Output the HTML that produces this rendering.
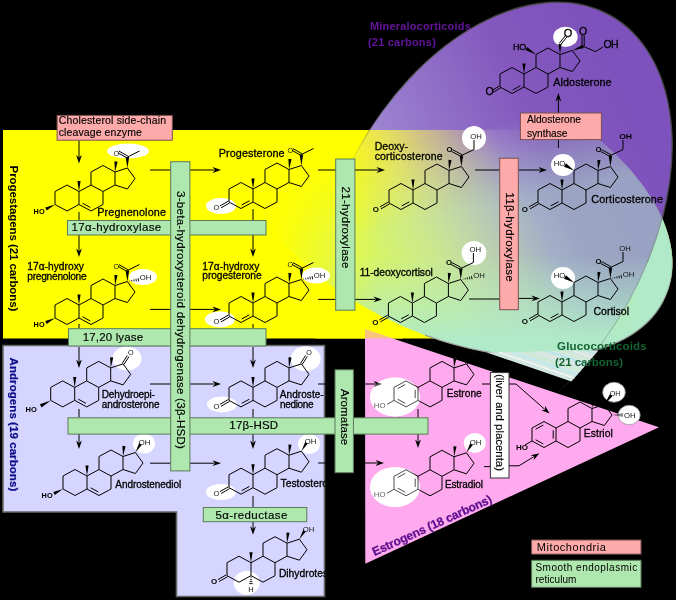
<!DOCTYPE html>
<html><head><meta charset="utf-8"><style>html,body{margin:0;padding:0;background:#000;width:676px;height:600px;overflow:hidden}</style></head>
<body>
<svg width="676" height="600" viewBox="0 0 676 600" style="display:block;will-change:transform">
<g font-family='"Liberation Sans", sans-serif'>
<defs>
<linearGradient id="gp" gradientUnits="userSpaceOnUse" x1="600" y1="40" x2="380" y2="140">
<stop offset="0" stop-color="#7e52bc"/>
<stop offset="0.4" stop-color="#8458be"/>
<stop offset="1" stop-color="#9c84d0"/>
</linearGradient>
<linearGradient id="gpl" gradientUnits="userSpaceOnUse" x1="600" y1="40" x2="380" y2="140">
<stop offset="0" stop-color="#7e52bc"/>
<stop offset="0.4" stop-color="#8458be"/>
<stop offset="1" stop-color="#c4b4e6"/>
</linearGradient>
<linearGradient id="gp2" gradientUnits="userSpaceOnUse" x1="357" y1="211" x2="500" y2="142">
<stop offset="0" stop-color="#fff" stop-opacity="0"/>
<stop offset="0.55" stop-color="#fff" stop-opacity="0.6"/>
<stop offset="1" stop-color="#fff" stop-opacity="1"/>
</linearGradient>
<mask id="mp" maskUnits="userSpaceOnUse" x="0" y="0" width="676" height="600"><rect x="0" y="0" width="676" height="600" fill="url(#gp2)"/></mask>
<linearGradient id="gg" gradientUnits="userSpaceOnUse" x1="0" y1="255" x2="0" y2="340">
<stop offset="0" stop-color="#b0eac8" stop-opacity="0"/>
<stop offset="1" stop-color="#b0eac8" stop-opacity="1"/>
</linearGradient>
<linearGradient id="ggx" gradientUnits="userSpaceOnUse" x1="590" y1="0" x2="640" y2="0">
<stop offset="0" stop-color="#b0eac8" stop-opacity="0"/>
<stop offset="1" stop-color="#b0eac8" stop-opacity="1"/>
</linearGradient>
<linearGradient id="ggm" gradientUnits="userSpaceOnUse" x1="270" y1="0" x2="380" y2="0">
<stop offset="0" stop-color="#fff" stop-opacity="0"/>
<stop offset="1" stop-color="#fff" stop-opacity="1"/>
</linearGradient>
<linearGradient id="ggv" gradientUnits="userSpaceOnUse" x1="420" y1="140" x2="437.5" y2="218">
<stop offset="0" stop-color="#fff" stop-opacity="0"/>
<stop offset="1" stop-color="#fff" stop-opacity="1"/>
</linearGradient>
<mask id="mg" maskUnits="userSpaceOnUse" x="0" y="0" width="676" height="600"><rect x="0" y="0" width="676" height="600" fill="url(#ggm)"/></mask>
<mask id="mgv" maskUnits="userSpaceOnUse" x="0" y="0" width="676" height="600"><rect x="0" y="0" width="676" height="600" fill="url(#ggv)"/></mask>
<linearGradient id="gps" gradientUnits="userSpaceOnUse" x1="540" y1="60" x2="380" y2="200">
<stop offset="0" stop-color="#444" stop-opacity="1"/>
<stop offset="0.5" stop-color="#555" stop-opacity="1"/>
<stop offset="1" stop-color="#555" stop-opacity="0"/>
</linearGradient>
<linearGradient id="ggs" gradientUnits="userSpaceOnUse" x1="600" y1="230" x2="560" y2="350">
<stop offset="0" stop-color="#888" stop-opacity="0.2"/>
<stop offset="0.5" stop-color="#888" stop-opacity="0.9"/>
<stop offset="1" stop-color="#999" stop-opacity="1"/>
</linearGradient>
</defs>
<rect x="0" y="0" width="676" height="600" fill="#000"/>
<defs>
<clipPath id="cband"><rect x="0" y="130" width="676" height="208.5"/></clipPath>
<clipPath id="cpl"><rect x="560" y="200" width="116" height="160"/></clipPath>
<clipPath id="cgs"><rect x="425" y="200" width="260" height="200"/></clipPath>
<clipPath id="cbelow"><rect x="0" y="338.5" width="676" height="100"/></clipPath>
<mask id="mout" maskUnits="userSpaceOnUse" x="0" y="0" width="676" height="600"><rect x="0" y="0" width="676" height="600" fill="#fff"/><path d="M628.44,301.74 A155.2,240.4 29 1 0 356.96,151.26 A155.2,240.4 29 1 0 628.44,301.74 Z" fill="#000"/></mask>
<clipPath id="ctop"><rect x="0" y="0" width="676" height="130"/></clipPath>
<clipPath id="cbot"><rect x="0" y="130" width="676" height="208.5"/></clipPath>
</defs>
<polygon points="3,345.5 324.5,345.5 324.5,596.5 176.5,596.5 176.5,512 3,512" fill="#d5d5ff" stroke="#666" stroke-width="1.6"/>
<rect x="3" y="130" width="400" height="208.5" fill="#ffff00"/>
<g clip-path="url(#cband)"><path d="M628.44,301.74 A155.2,240.4 29 1 0 356.96,151.26 A155.2,240.4 29 1 0 628.44,301.74 Z" fill="#ffff00"/><path d="M665.71,295.74 A227.9,131.1 23.3 1 0 247.09,115.46 A227.9,131.1 23.3 1 0 665.71,295.74 Z" fill="#ffff00"/></g>
<g clip-path="url(#cbelow)"><path d="M665.71,295.74 A227.9,131.1 23.3 1 0 247.09,115.46 A227.9,131.1 23.3 1 0 665.71,295.74 Z" fill="#ffff00"/></g>
<g clip-path="url(#ctop)"><path d="M628.44,301.74 A155.2,240.4 29 1 0 356.96,151.26 A155.2,240.4 29 1 0 628.44,301.74 Z" fill="url(#gp)"/></g>
<g clip-path="url(#cbot)"><g mask="url(#mp)"><path d="M628.44,301.74 A155.2,240.4 29 1 0 356.96,151.26 A155.2,240.4 29 1 0 628.44,301.74 Z" fill="url(#gpl)"/></g></g>
<path d="M628.44,301.74 A155.2,240.4 29 1 0 356.96,151.26 A155.2,240.4 29 1 0 628.44,301.74 Z" fill="none" stroke="url(#gps)" stroke-width="1.3"/>
<g mask="url(#mgv)"><g mask="url(#mg)"><path d="M665.71,295.74 A227.9,131.1 23.3 1 0 247.09,115.46 A227.9,131.1 23.3 1 0 665.71,295.74 Z" fill="#b0eac8" fill-opacity="0.52"/><path d="M665.71,295.74 A227.9,131.1 23.3 1 0 247.09,115.46 A227.9,131.1 23.3 1 0 665.71,295.74 Z" fill="url(#gg)"/></g></g>
<g mask="url(#mout)"><path d="M665.71,295.74 A227.9,131.1 23.3 1 0 247.09,115.46 A227.9,131.1 23.3 1 0 665.71,295.74 Z" fill="url(#ggx)"/></g>
<g clip-path="url(#cgs)"><path d="M665.71,295.74 A227.9,131.1 23.3 1 0 247.09,115.46 A227.9,131.1 23.3 1 0 665.71,295.74 Z" fill="none" stroke="url(#ggs)" stroke-width="1.2"/></g>
<path d="M628.44,301.74 A155.2,240.4 29 1 0 356.96,151.26 A155.2,240.4 29 1 0 628.44,301.74 Z" fill="none" stroke="#556" stroke-opacity="0.35" stroke-width="1" clip-path="url(#cpl)"/>
<polygon points="486.6,352.4 598.4,350.4 571.4,381.4" fill="#d4e6e2"/>
<line x1="499.0" y1="352.2" x2="574.4" y2="378.0" stroke="#ffffff" stroke-width="1"/>
<line x1="511.4" y1="352.0" x2="577.4" y2="374.5" stroke="#a8f0f8" stroke-width="1"/>
<line x1="523.9" y1="351.7" x2="580.4" y2="371.1" stroke="#c8f0c0" stroke-width="1"/>
<line x1="536.3" y1="351.5" x2="583.4" y2="367.6" stroke="#e8e8e8" stroke-width="1"/>
<line x1="548.7" y1="351.3" x2="586.4" y2="364.2" stroke="#a0e8f0" stroke-width="1"/>
<line x1="561.1" y1="351.1" x2="589.4" y2="360.7" stroke="#d0f0c8" stroke-width="1"/>
<line x1="573.6" y1="350.8" x2="592.4" y2="357.3" stroke="#f0f0f0" stroke-width="1"/>
<line x1="586.0" y1="350.6" x2="595.4" y2="353.8" stroke="#b8e0e8" stroke-width="1"/>
<polygon points="365,329.3 659,427.2 365.3,563.8" fill="#ffaaee"/>
<polygon points="365,329.3 392,338.3 365,338.3" fill="#f8c47c"/>
<ellipse cx="128" cy="151" rx="21" ry="7.5" fill="#fff" fill-opacity="1"/>
<ellipse cx="221" cy="206" rx="15" ry="8" fill="#fff" fill-opacity="1"/>
<ellipse cx="143" cy="277" rx="14" ry="8" fill="#fff" fill-opacity="1"/>
<ellipse cx="220" cy="319.4" rx="15" ry="8" fill="#fff" fill-opacity="1"/>
<ellipse cx="316" cy="275.6" rx="14" ry="8" fill="#fff" fill-opacity="1"/>
<ellipse cx="474" cy="138" rx="12" ry="12" fill="#fff" fill-opacity="1"/>
<ellipse cx="474" cy="253" rx="12.4" ry="12" fill="#fff" fill-opacity="1"/>
<ellipse cx="563" cy="165" rx="12" ry="11" fill="#fff" fill-opacity="1"/>
<ellipse cx="563" cy="278" rx="12" ry="11" fill="#fff" fill-opacity="1"/>
<ellipse cx="565.4" cy="36.9" rx="12.2" ry="10.2" fill="#fff" fill-opacity="1"/>
<ellipse cx="127" cy="358.5" rx="14.5" ry="12" fill="#fff" fill-opacity="1"/>
<ellipse cx="222" cy="404.4" rx="15" ry="8" fill="#fff" fill-opacity="1"/>
<ellipse cx="305.7" cy="358.7" rx="15" ry="12.4" fill="#fff" fill-opacity="1"/>
<ellipse cx="144" cy="443.6" rx="11" ry="10" fill="#fff" fill-opacity="1"/>
<ellipse cx="309" cy="444" rx="11" ry="10" fill="#fff" fill-opacity="1"/>
<ellipse cx="221" cy="492" rx="15" ry="8" fill="#fff" fill-opacity="1"/>
<ellipse cx="395" cy="397" rx="25" ry="19.5" fill="#fff" fill-opacity="1"/>
<ellipse cx="395" cy="487" rx="25" ry="20" fill="#fff" fill-opacity="1"/>
<ellipse cx="474.8" cy="443" rx="11" ry="10" fill="#fff" fill-opacity="1"/>
<ellipse cx="246.7" cy="582.7" rx="13" ry="12" fill="#fff" fill-opacity="1"/>
<ellipse cx="614" cy="392.3" rx="11.3" ry="10" fill="#fff" fill-opacity="1" stroke="#999" stroke-width="0.8"/>
<ellipse cx="629.2" cy="415" rx="11" ry="9.7" fill="#fff" fill-opacity="1" stroke="#999" stroke-width="0.8"/>
<ellipse cx="221" cy="590" rx="1" ry="1" fill="#fff" fill-opacity="0"/>
<line x1="79" y1="140.4" x2="79" y2="157" stroke="#000" stroke-width="1.0"/>
<polygon points="79,163.5 76.1,155 79,157.55 81.9,155" fill="#000"/>
<line x1="150" y1="170" x2="214.5" y2="170" stroke="#000" stroke-width="1.0"/>
<polygon points="221,170 212.5,172.9 215.05,170 212.5,167.1" fill="#000"/>
<line x1="79" y1="235" x2="79" y2="250.5" stroke="#000" stroke-width="1.0"/>
<polygon points="79,257 76.1,248.5 79,251.05 81.9,248.5" fill="#000"/>
<line x1="253" y1="235" x2="253" y2="250.5" stroke="#000" stroke-width="1.0"/>
<polygon points="253,257 250.1,248.5 253,251.05 255.9,248.5" fill="#000"/>
<line x1="253" y1="209" x2="253" y2="220" stroke="#000" stroke-width="1.0"/>
<line x1="79" y1="212" x2="79" y2="220" stroke="#000" stroke-width="1.0"/>
<line x1="150" y1="309.4" x2="214.5" y2="309.4" stroke="#000" stroke-width="1.0"/>
<polygon points="221,309.4 212.5,312.3 215.05,309.4 212.5,306.5" fill="#000"/>
<line x1="79" y1="324" x2="79" y2="328.5" stroke="#000" stroke-width="1.0"/>
<line x1="253" y1="324" x2="253" y2="328.5" stroke="#000" stroke-width="1.0"/>
<line x1="79" y1="347" x2="79" y2="361.5" stroke="#000" stroke-width="1.0"/>
<polygon points="79,368 76.1,359.5 79,362.05 81.9,359.5" fill="#000"/>
<line x1="253" y1="347" x2="253" y2="361.5" stroke="#000" stroke-width="1.0"/>
<polygon points="253,368 250.1,359.5 253,362.05 255.9,359.5" fill="#000"/>
<line x1="150" y1="384" x2="214.5" y2="384" stroke="#000" stroke-width="1.0"/>
<polygon points="221,384 212.5,386.9 215.05,384 212.5,381.1" fill="#000"/>
<line x1="79" y1="409" x2="79" y2="417.5" stroke="#000" stroke-width="1.0"/>
<line x1="253" y1="409" x2="253" y2="417.5" stroke="#000" stroke-width="1.0"/>
<line x1="79" y1="434" x2="79" y2="442.5" stroke="#000" stroke-width="1.0"/>
<polygon points="79,449 76.1,440.5 79,443.05 81.9,440.5" fill="#000"/>
<line x1="253" y1="434" x2="253" y2="442.5" stroke="#000" stroke-width="1.0"/>
<polygon points="253,449 250.1,440.5 253,443.05 255.9,440.5" fill="#000"/>
<line x1="150" y1="463.2" x2="214.5" y2="463.2" stroke="#000" stroke-width="1.0"/>
<polygon points="221,463.2 212.5,466.1 215.05,463.2 212.5,460.3" fill="#000"/>
<line x1="253" y1="496" x2="253" y2="507.5" stroke="#000" stroke-width="1.0"/>
<line x1="253" y1="521.3" x2="253" y2="528.2" stroke="#000" stroke-width="1.0"/>
<polygon points="253,534.7 250.1,526.2 253,528.75 255.9,526.2" fill="#000"/>
<line x1="318" y1="170" x2="335.6" y2="170" stroke="#000" stroke-width="1.0"/>
<line x1="354.4" y1="170" x2="378.5" y2="170" stroke="#000" stroke-width="1.0"/>
<polygon points="385,170 376.5,172.9 379.05,170 376.5,167.1" fill="#000"/>
<line x1="318" y1="299.4" x2="335.6" y2="299.4" stroke="#000" stroke-width="1.0"/>
<line x1="354.4" y1="299.4" x2="375.5" y2="299.4" stroke="#000" stroke-width="1.0"/>
<polygon points="382,299.4 373.5,302.3 376.05,299.4 373.5,296.5" fill="#000"/>
<line x1="475" y1="170" x2="499.4" y2="170" stroke="#000" stroke-width="1.0"/>
<line x1="518.4" y1="170" x2="540.5" y2="170" stroke="#000" stroke-width="1.0"/>
<polygon points="547,170 538.5,172.9 541.05,170 538.5,167.1" fill="#000"/>
<line x1="469" y1="299" x2="499.4" y2="299" stroke="#000" stroke-width="1.0"/>
<line x1="518.4" y1="298.4" x2="533.5" y2="298.4" stroke="#000" stroke-width="1.0"/>
<polygon points="540,298.4 531.5,301.3 534.05,298.4 531.5,295.5" fill="#000"/>
<line x1="558.4" y1="139.6" x2="558.4" y2="148" stroke="#000" stroke-width="1.0"/>
<line x1="558.4" y1="113" x2="558.4" y2="99.5" stroke="#000" stroke-width="1.0"/>
<polygon points="558.4,93 561.3,101.5 558.4,98.95 555.5,101.5" fill="#000"/>
<line x1="318" y1="384" x2="334.6" y2="384" stroke="#000" stroke-width="1.0"/>
<line x1="353.4" y1="384" x2="375.5" y2="384" stroke="#000" stroke-width="1.0"/>
<polygon points="382,384 373.5,386.9 376.05,384 373.5,381.1" fill="#000"/>
<line x1="318" y1="463" x2="334.6" y2="463" stroke="#000" stroke-width="1.0"/>
<line x1="353.4" y1="463" x2="377.5" y2="463" stroke="#000" stroke-width="1.0"/>
<polygon points="384,463 375.5,465.9 378.05,463 375.5,460.1" fill="#000"/>
<line x1="418" y1="409" x2="418" y2="441.5" stroke="#000" stroke-width="1.0"/>
<polygon points="418,448 415.1,439.5 418,442.05 420.9,439.5" fill="#000"/>
<line x1="482" y1="384" x2="490.7" y2="384" stroke="#000" stroke-width="1.0"/>
<line x1="509" y1="384" x2="516" y2="384" stroke="#000" stroke-width="1.0"/>
<line x1="516" y1="384" x2="544.72" y2="409.3" stroke="#000" stroke-width="1.0"/>
<polygon points="549.6,413.6 541.3,410.16 545.14,409.67 545.14,405.81" fill="#000"/>
<line x1="484" y1="466.6" x2="490.7" y2="466.6" stroke="#000" stroke-width="1.0"/>
<line x1="509" y1="465.8" x2="519" y2="465.8" stroke="#000" stroke-width="1.0"/>
<line x1="519" y1="465.8" x2="533.86" y2="456.7" stroke="#000" stroke-width="1.0"/>
<polygon points="539.4,453.3 533.67,460.21 534.33,456.41 530.64,455.27" fill="#000"/>
<rect x="57.1" y="115.4" width="115.2" height="24.8" fill="#ffaaaa" stroke="#7a5050" stroke-width="1"/>
<text x="58.7" y="123.8" font-size="10.5" text-anchor="start" font-weight="normal" fill="#000" textLength="107.3" lengthAdjust="spacing" stroke="#000" stroke-width="0.15">Cholesterol side-chain</text>
<text x="58.7" y="136.3" font-size="10.5" text-anchor="start" font-weight="normal" fill="#000" textLength="83.2" lengthAdjust="spacing" stroke="#000" stroke-width="0.15">cleavage enzyme</text>
<rect x="67.5" y="220.5" width="198.5" height="14.5" fill="#aee8ae" stroke="#5a7a5a" stroke-width="1"/>
<text x="71.5" y="231" font-size="11.5" text-anchor="start" font-weight="normal" fill="#000" textLength="89.7" lengthAdjust="spacing" stroke="#000" stroke-width="0.15">17α-hydroxylase</text>
<rect x="68.5" y="328.7" width="197.5" height="17.3" fill="#aee8ae" stroke="#5a7a5a" stroke-width="1"/>
<text x="82.7" y="340.6" font-size="11.5" text-anchor="start" font-weight="normal" fill="#000" textLength="60.4" lengthAdjust="spacing" stroke="#000" stroke-width="0.15">17,20 lyase</text>
<rect x="68" y="417.8" width="360" height="16.3" fill="#aee8ae" stroke="#5a7a5a" stroke-width="1"/>
<text x="229.3" y="428.9" font-size="11.5" text-anchor="start" font-weight="normal" fill="#000" textLength="48.8" lengthAdjust="spacing" stroke="#000" stroke-width="0.15">17β-HSD</text>
<rect x="203.3" y="507.5" width="103.5" height="14.2" fill="#aee8ae" stroke="#5a7a5a" stroke-width="1"/>
<text x="215.4" y="518.6" font-size="11.5" text-anchor="start" font-weight="normal" fill="#000" textLength="71.9" lengthAdjust="spacing" stroke="#000" stroke-width="0.15">5α-reductase</text>
<rect x="170.7" y="161.7" width="19.2" height="309.2" fill="#aee8ae" stroke="#5a7a5a" stroke-width="1"/>
<text transform="translate(176.5,191) rotate(90)" x="0" y="0" font-size="11.5" font-weight="normal" fill="#000" textLength="257.9" lengthAdjust="spacing" stroke="#000" stroke-width="0.15">3-beta-hydroxysteroid dehydrogenase (3β-HSD)</text>
<rect x="335.7" y="159" width="19.2" height="151.2" fill="#aee8ae" stroke="#5a7a5a" stroke-width="1"/>
<text transform="translate(341.5,186.5) rotate(90)" x="0" y="0" font-size="11.5" font-weight="normal" fill="#000" textLength="81.8" lengthAdjust="spacing" stroke="#000" stroke-width="0.15">21-hydroxylase</text>
<rect x="335" y="369.8" width="18.4" height="102.9" fill="#aee8ae" stroke="#5a7a5a" stroke-width="1"/>
<text transform="translate(340.7,389) rotate(90)" x="0" y="0" font-size="11.5" font-weight="normal" fill="#000" textLength="56.1" lengthAdjust="spacing" stroke="#000" stroke-width="0.15">Aromatase</text>
<rect x="499.7" y="158.2" width="18.6" height="151.5" fill="#ffaaaa" stroke="#7a5050" stroke-width="1"/>
<text transform="translate(505.5,192.3) rotate(90)" x="0" y="0" font-size="11.5" font-weight="normal" fill="#000" textLength="89.4" lengthAdjust="spacing" stroke="#000" stroke-width="0.15">11β-hydroxylase</text>
<rect x="520.4" y="113" width="81" height="26.6" fill="#ffaaaa" stroke="#7a5050" stroke-width="1"/>
<text x="527" y="123" font-size="10.2" text-anchor="start" font-weight="normal" fill="#000" textLength="54" lengthAdjust="spacing" stroke="#000" stroke-width="0.15">Aldosterone</text>
<text x="527" y="136.6" font-size="10.2" text-anchor="start" font-weight="normal" fill="#000" textLength="40.4" lengthAdjust="spacing" stroke="#000" stroke-width="0.15">synthase</text>
<rect x="490.4" y="372.6" width="18.6" height="105.4" fill="#fff" stroke="#333" stroke-width="1"/>
<text transform="translate(496,374) rotate(90)" x="0" y="0" font-size="11.4" font-weight="normal" fill="#000" textLength="97" lengthAdjust="spacing" stroke="#000" stroke-width="0.15">(liver and placenta)</text>
<rect x="531.6" y="540" width="109.4" height="14.1" fill="#ffaaaa" stroke="#7a5050" stroke-width="1"/>
<text x="536.8" y="550.8" font-size="11" text-anchor="start" font-weight="normal" fill="#000" textLength="69.1" lengthAdjust="spacing" >Mitochondria</text>
<rect x="531.6" y="560.3" width="109.4" height="27" fill="#aee8ae" stroke="#5a7a5a" stroke-width="1"/>
<text x="535.4" y="570.7" font-size="10" text-anchor="start" font-weight="normal" fill="#000" textLength="101.8" lengthAdjust="spacing" >Smooth endoplasmic</text>
<text x="535.4" y="582.5" font-size="10" text-anchor="start" font-weight="normal" fill="#000" textLength="41" lengthAdjust="spacing" >reticulum</text>
<line x1="67" y1="185" x2="55" y2="191.5" stroke="#000" stroke-width="1.0"/>
<line x1="55" y1="191.5" x2="55" y2="204.5" stroke="#000" stroke-width="1.0"/>
<line x1="55" y1="204.5" x2="67" y2="211" stroke="#000" stroke-width="1.0"/>
<line x1="67" y1="211" x2="79" y2="204.5" stroke="#000" stroke-width="1.0"/>
<line x1="79" y1="204.5" x2="79" y2="191.5" stroke="#000" stroke-width="1.0"/>
<line x1="79" y1="191.5" x2="67" y2="185" stroke="#000" stroke-width="1.0"/>
<line x1="79" y1="191.5" x2="91" y2="185" stroke="#000" stroke-width="1.0"/>
<line x1="91" y1="185" x2="103" y2="191.5" stroke="#000" stroke-width="1.0"/>
<line x1="103" y1="191.5" x2="103" y2="204.5" stroke="#000" stroke-width="1.0"/>
<line x1="103" y1="204.5" x2="91" y2="211" stroke="#000" stroke-width="1.0"/>
<line x1="91" y1="211" x2="79" y2="204.5" stroke="#000" stroke-width="1.0"/>
<line x1="91" y1="185" x2="91" y2="172" stroke="#000" stroke-width="1.0"/>
<line x1="91" y1="172" x2="103" y2="165.5" stroke="#000" stroke-width="1.0"/>
<line x1="103" y1="165.5" x2="115" y2="172" stroke="#000" stroke-width="1.0"/>
<line x1="115" y1="172" x2="115" y2="185" stroke="#000" stroke-width="1.0"/>
<line x1="115" y1="185" x2="103" y2="191.5" stroke="#000" stroke-width="1.0"/>
<line x1="115" y1="172" x2="127.4" y2="168" stroke="#000" stroke-width="1.0"/>
<line x1="127.4" y1="168" x2="135" y2="178.5" stroke="#000" stroke-width="1.0"/>
<line x1="135" y1="178.5" x2="127.4" y2="189" stroke="#000" stroke-width="1.0"/>
<line x1="127.4" y1="189" x2="115" y2="185" stroke="#000" stroke-width="1.0"/>
<polygon points="79,191.5 80.6,181 77.4,181" fill="#000"/>
<polygon points="115,172 117.59,161.65 114.41,161.35" fill="#000"/>
<line x1="82.63" y1="203.29" x2="90.31" y2="207.45" stroke="#000" stroke-width="1.0"/>
<polygon points="55,204.5 45.23,207.59 46.77,210.61" fill="#000"/>
<text x="33.6" y="213.7" font-size="6.3" text-anchor="start" font-weight="bold" fill="#000" textLength="11" lengthAdjust="spacingAndGlyphs" >HO</text>
<polygon points="127.4,168 129.2,157 125.6,157" fill="#000"/>
<line x1="127.89" y1="156.13" x2="118.99" y2="151.13" stroke="#000" stroke-width="1.0"/>
<line x1="126.91" y1="157.87" x2="118.01" y2="152.87" stroke="#000" stroke-width="1.0"/>
<text x="113.4" y="155.5" font-size="6.3" text-anchor="start" font-weight="normal" fill="#111" textLength="5.6" lengthAdjust="spacingAndGlyphs" >O</text>
<line x1="127.4" y1="157" x2="139.5" y2="151" stroke="#000" stroke-width="1.0"/>
<line x1="67" y1="298.5" x2="55" y2="305" stroke="#000" stroke-width="1.0"/>
<line x1="55" y1="305" x2="55" y2="318" stroke="#000" stroke-width="1.0"/>
<line x1="55" y1="318" x2="67" y2="324.5" stroke="#000" stroke-width="1.0"/>
<line x1="67" y1="324.5" x2="79" y2="318" stroke="#000" stroke-width="1.0"/>
<line x1="79" y1="318" x2="79" y2="305" stroke="#000" stroke-width="1.0"/>
<line x1="79" y1="305" x2="67" y2="298.5" stroke="#000" stroke-width="1.0"/>
<line x1="79" y1="305" x2="91" y2="298.5" stroke="#000" stroke-width="1.0"/>
<line x1="91" y1="298.5" x2="103" y2="305" stroke="#000" stroke-width="1.0"/>
<line x1="103" y1="305" x2="103" y2="318" stroke="#000" stroke-width="1.0"/>
<line x1="103" y1="318" x2="91" y2="324.5" stroke="#000" stroke-width="1.0"/>
<line x1="91" y1="324.5" x2="79" y2="318" stroke="#000" stroke-width="1.0"/>
<line x1="91" y1="298.5" x2="91" y2="285.5" stroke="#000" stroke-width="1.0"/>
<line x1="91" y1="285.5" x2="103" y2="279" stroke="#000" stroke-width="1.0"/>
<line x1="103" y1="279" x2="115" y2="285.5" stroke="#000" stroke-width="1.0"/>
<line x1="115" y1="285.5" x2="115" y2="298.5" stroke="#000" stroke-width="1.0"/>
<line x1="115" y1="298.5" x2="103" y2="305" stroke="#000" stroke-width="1.0"/>
<line x1="115" y1="285.5" x2="127.4" y2="281.5" stroke="#000" stroke-width="1.0"/>
<line x1="127.4" y1="281.5" x2="135" y2="292" stroke="#000" stroke-width="1.0"/>
<line x1="135" y1="292" x2="127.4" y2="302.5" stroke="#000" stroke-width="1.0"/>
<line x1="127.4" y1="302.5" x2="115" y2="298.5" stroke="#000" stroke-width="1.0"/>
<polygon points="79,305 80.6,294.5 77.4,294.5" fill="#000"/>
<polygon points="115,285.5 117.59,275.15 114.41,274.85" fill="#000"/>
<line x1="82.63" y1="316.79" x2="90.31" y2="320.95" stroke="#000" stroke-width="1.0"/>
<polygon points="55,318 45.23,321.09 46.77,324.11" fill="#000"/>
<text x="33.6" y="327.2" font-size="6.3" text-anchor="start" font-weight="bold" fill="#000" textLength="11" lengthAdjust="spacingAndGlyphs" >HO</text>
<polygon points="127.4,281.5 129.2,270.5 125.6,270.5" fill="#000"/>
<line x1="127.89" y1="269.63" x2="118.99" y2="264.63" stroke="#000" stroke-width="1.0"/>
<line x1="126.91" y1="271.37" x2="118.01" y2="266.37" stroke="#000" stroke-width="1.0"/>
<text x="113.4" y="269" font-size="6.3" text-anchor="start" font-weight="normal" fill="#111" textLength="5.6" lengthAdjust="spacingAndGlyphs" >O</text>
<line x1="127.4" y1="270.5" x2="139.5" y2="264.5" stroke="#000" stroke-width="1.0"/>
<line x1="129.65" y1="281.46" x2="129.53" y2="280.79" stroke="#000" stroke-width="0.9"/>
<line x1="131.89" y1="281.41" x2="131.66" y2="280.08" stroke="#000" stroke-width="0.9"/>
<line x1="134.14" y1="281.37" x2="133.79" y2="279.36" stroke="#000" stroke-width="0.9"/>
<line x1="136.39" y1="281.33" x2="135.92" y2="278.65" stroke="#000" stroke-width="0.9"/>
<line x1="138.63" y1="281.29" x2="138.05" y2="277.94" stroke="#000" stroke-width="0.9"/>
<text x="139.8" y="279.5" font-size="6.3" text-anchor="start" font-weight="normal" fill="#111" textLength="11.6" lengthAdjust="spacingAndGlyphs" >OH</text>
<line x1="62.7" y1="380.9" x2="50.7" y2="387.4" stroke="#000" stroke-width="1.0"/>
<line x1="50.7" y1="387.4" x2="50.7" y2="400.4" stroke="#000" stroke-width="1.0"/>
<line x1="50.7" y1="400.4" x2="62.7" y2="406.9" stroke="#000" stroke-width="1.0"/>
<line x1="62.7" y1="406.9" x2="74.7" y2="400.4" stroke="#000" stroke-width="1.0"/>
<line x1="74.7" y1="400.4" x2="74.7" y2="387.4" stroke="#000" stroke-width="1.0"/>
<line x1="74.7" y1="387.4" x2="62.7" y2="380.9" stroke="#000" stroke-width="1.0"/>
<line x1="74.7" y1="387.4" x2="86.7" y2="380.9" stroke="#000" stroke-width="1.0"/>
<line x1="86.7" y1="380.9" x2="98.7" y2="387.4" stroke="#000" stroke-width="1.0"/>
<line x1="98.7" y1="387.4" x2="98.7" y2="400.4" stroke="#000" stroke-width="1.0"/>
<line x1="98.7" y1="400.4" x2="86.7" y2="406.9" stroke="#000" stroke-width="1.0"/>
<line x1="86.7" y1="406.9" x2="74.7" y2="400.4" stroke="#000" stroke-width="1.0"/>
<line x1="86.7" y1="380.9" x2="86.7" y2="367.9" stroke="#000" stroke-width="1.0"/>
<line x1="86.7" y1="367.9" x2="98.7" y2="361.4" stroke="#000" stroke-width="1.0"/>
<line x1="98.7" y1="361.4" x2="110.7" y2="367.9" stroke="#000" stroke-width="1.0"/>
<line x1="110.7" y1="367.9" x2="110.7" y2="380.9" stroke="#000" stroke-width="1.0"/>
<line x1="110.7" y1="380.9" x2="98.7" y2="387.4" stroke="#000" stroke-width="1.0"/>
<line x1="110.7" y1="367.9" x2="123.1" y2="363.9" stroke="#000" stroke-width="1.0"/>
<line x1="123.1" y1="363.9" x2="130.7" y2="374.4" stroke="#000" stroke-width="1.0"/>
<line x1="130.7" y1="374.4" x2="123.1" y2="384.9" stroke="#000" stroke-width="1.0"/>
<line x1="123.1" y1="384.9" x2="110.7" y2="380.9" stroke="#000" stroke-width="1.0"/>
<polygon points="74.7,387.4 76.3,376.9 73.1,376.9" fill="#000"/>
<polygon points="110.7,367.9 113.29,357.55 110.11,357.25" fill="#000"/>
<line x1="78.33" y1="399.19" x2="86.01" y2="403.35" stroke="#000" stroke-width="1.0"/>
<polygon points="50.7,400.4 39.83,404.32 41.57,407.48" fill="#000"/>
<text x="25.6" y="411.6" font-size="6.3" text-anchor="start" font-weight="bold" fill="#000" textLength="11.3" lengthAdjust="spacingAndGlyphs" >HO</text>
<line x1="123.94" y1="364.44" x2="129.04" y2="356.44" stroke="#000" stroke-width="1.0"/>
<line x1="122.26" y1="363.36" x2="127.36" y2="355.36" stroke="#000" stroke-width="1.0"/>
<text x="127.9" y="355.2" font-size="6.3" text-anchor="start" font-weight="normal" fill="#111" textLength="5.6" lengthAdjust="spacingAndGlyphs" >O</text>
<line x1="75" y1="469.5" x2="63" y2="476" stroke="#000" stroke-width="1.0"/>
<line x1="63" y1="476" x2="63" y2="489" stroke="#000" stroke-width="1.0"/>
<line x1="63" y1="489" x2="75" y2="495.5" stroke="#000" stroke-width="1.0"/>
<line x1="75" y1="495.5" x2="87" y2="489" stroke="#000" stroke-width="1.0"/>
<line x1="87" y1="489" x2="87" y2="476" stroke="#000" stroke-width="1.0"/>
<line x1="87" y1="476" x2="75" y2="469.5" stroke="#000" stroke-width="1.0"/>
<line x1="87" y1="476" x2="99" y2="469.5" stroke="#000" stroke-width="1.0"/>
<line x1="99" y1="469.5" x2="111" y2="476" stroke="#000" stroke-width="1.0"/>
<line x1="111" y1="476" x2="111" y2="489" stroke="#000" stroke-width="1.0"/>
<line x1="111" y1="489" x2="99" y2="495.5" stroke="#000" stroke-width="1.0"/>
<line x1="99" y1="495.5" x2="87" y2="489" stroke="#000" stroke-width="1.0"/>
<line x1="99" y1="469.5" x2="99" y2="456.5" stroke="#000" stroke-width="1.0"/>
<line x1="99" y1="456.5" x2="111" y2="450" stroke="#000" stroke-width="1.0"/>
<line x1="111" y1="450" x2="123" y2="456.5" stroke="#000" stroke-width="1.0"/>
<line x1="123" y1="456.5" x2="123" y2="469.5" stroke="#000" stroke-width="1.0"/>
<line x1="123" y1="469.5" x2="111" y2="476" stroke="#000" stroke-width="1.0"/>
<line x1="123" y1="456.5" x2="135.4" y2="452.5" stroke="#000" stroke-width="1.0"/>
<line x1="135.4" y1="452.5" x2="143" y2="463" stroke="#000" stroke-width="1.0"/>
<line x1="143" y1="463" x2="135.4" y2="473.5" stroke="#000" stroke-width="1.0"/>
<line x1="135.4" y1="473.5" x2="123" y2="469.5" stroke="#000" stroke-width="1.0"/>
<polygon points="87,476 88.6,465.5 85.4,465.5" fill="#000"/>
<polygon points="123,456.5 125.59,446.15 122.41,445.85" fill="#000"/>
<line x1="90.63" y1="487.79" x2="98.31" y2="491.95" stroke="#000" stroke-width="1.0"/>
<polygon points="63,489 53.23,492.09 54.77,495.11" fill="#000"/>
<text x="41.6" y="498.2" font-size="6.3" text-anchor="start" font-weight="bold" fill="#000" textLength="11" lengthAdjust="spacingAndGlyphs" >HO</text>
<polygon points="135.4,452.5 141.87,444.82 139.13,443.18" fill="#000"/>
<text x="138.8" y="444.8" font-size="6.3" text-anchor="start" font-weight="normal" fill="#111" textLength="11.6" lengthAdjust="spacingAndGlyphs" >OH</text>
<line x1="241" y1="182.5" x2="229" y2="189" stroke="#000" stroke-width="1.0"/>
<line x1="229" y1="189" x2="229" y2="202" stroke="#000" stroke-width="1.0"/>
<line x1="229" y1="202" x2="241" y2="208.5" stroke="#000" stroke-width="1.0"/>
<line x1="241" y1="208.5" x2="253" y2="202" stroke="#000" stroke-width="1.0"/>
<line x1="253" y1="202" x2="253" y2="189" stroke="#000" stroke-width="1.0"/>
<line x1="253" y1="189" x2="241" y2="182.5" stroke="#000" stroke-width="1.0"/>
<line x1="253" y1="189" x2="265" y2="182.5" stroke="#000" stroke-width="1.0"/>
<line x1="265" y1="182.5" x2="277" y2="189" stroke="#000" stroke-width="1.0"/>
<line x1="277" y1="189" x2="277" y2="202" stroke="#000" stroke-width="1.0"/>
<line x1="277" y1="202" x2="265" y2="208.5" stroke="#000" stroke-width="1.0"/>
<line x1="265" y1="208.5" x2="253" y2="202" stroke="#000" stroke-width="1.0"/>
<line x1="265" y1="182.5" x2="265" y2="169.5" stroke="#000" stroke-width="1.0"/>
<line x1="265" y1="169.5" x2="277" y2="163" stroke="#000" stroke-width="1.0"/>
<line x1="277" y1="163" x2="289" y2="169.5" stroke="#000" stroke-width="1.0"/>
<line x1="289" y1="169.5" x2="289" y2="182.5" stroke="#000" stroke-width="1.0"/>
<line x1="289" y1="182.5" x2="277" y2="189" stroke="#000" stroke-width="1.0"/>
<line x1="289" y1="169.5" x2="301.4" y2="165.5" stroke="#000" stroke-width="1.0"/>
<line x1="301.4" y1="165.5" x2="309" y2="176" stroke="#000" stroke-width="1.0"/>
<line x1="309" y1="176" x2="301.4" y2="186.5" stroke="#000" stroke-width="1.0"/>
<line x1="301.4" y1="186.5" x2="289" y2="182.5" stroke="#000" stroke-width="1.0"/>
<polygon points="253,189 254.6,178.5 251.4,178.5" fill="#000"/>
<polygon points="289,169.5 291.59,159.15 288.41,158.85" fill="#000"/>
<line x1="241.69" y1="204.95" x2="249.37" y2="200.79" stroke="#000" stroke-width="1.0"/>
<line x1="228.45" y1="201.05" x2="219.95" y2="205.95" stroke="#000" stroke-width="1.0"/>
<line x1="229.55" y1="202.95" x2="221.05" y2="207.85" stroke="#000" stroke-width="1.0"/>
<text x="213.4" y="210.3" font-size="6.3" text-anchor="start" font-weight="normal" fill="#111" textLength="5.8" lengthAdjust="spacingAndGlyphs" >O</text>
<polygon points="301.4,165.5 303.2,154.5 299.6,154.5" fill="#000"/>
<line x1="301.89" y1="153.63" x2="292.99" y2="148.63" stroke="#000" stroke-width="1.0"/>
<line x1="300.91" y1="155.37" x2="292.01" y2="150.37" stroke="#000" stroke-width="1.0"/>
<text x="287.4" y="153" font-size="6.3" text-anchor="start" font-weight="normal" fill="#111" textLength="5.6" lengthAdjust="spacingAndGlyphs" >O</text>
<line x1="301.4" y1="154.5" x2="313.5" y2="148.5" stroke="#000" stroke-width="1.0"/>
<line x1="241" y1="296.5" x2="229" y2="303" stroke="#000" stroke-width="1.0"/>
<line x1="229" y1="303" x2="229" y2="316" stroke="#000" stroke-width="1.0"/>
<line x1="229" y1="316" x2="241" y2="322.5" stroke="#000" stroke-width="1.0"/>
<line x1="241" y1="322.5" x2="253" y2="316" stroke="#000" stroke-width="1.0"/>
<line x1="253" y1="316" x2="253" y2="303" stroke="#000" stroke-width="1.0"/>
<line x1="253" y1="303" x2="241" y2="296.5" stroke="#000" stroke-width="1.0"/>
<line x1="253" y1="303" x2="265" y2="296.5" stroke="#000" stroke-width="1.0"/>
<line x1="265" y1="296.5" x2="277" y2="303" stroke="#000" stroke-width="1.0"/>
<line x1="277" y1="303" x2="277" y2="316" stroke="#000" stroke-width="1.0"/>
<line x1="277" y1="316" x2="265" y2="322.5" stroke="#000" stroke-width="1.0"/>
<line x1="265" y1="322.5" x2="253" y2="316" stroke="#000" stroke-width="1.0"/>
<line x1="265" y1="296.5" x2="265" y2="283.5" stroke="#000" stroke-width="1.0"/>
<line x1="265" y1="283.5" x2="277" y2="277" stroke="#000" stroke-width="1.0"/>
<line x1="277" y1="277" x2="289" y2="283.5" stroke="#000" stroke-width="1.0"/>
<line x1="289" y1="283.5" x2="289" y2="296.5" stroke="#000" stroke-width="1.0"/>
<line x1="289" y1="296.5" x2="277" y2="303" stroke="#000" stroke-width="1.0"/>
<line x1="289" y1="283.5" x2="301.4" y2="279.5" stroke="#000" stroke-width="1.0"/>
<line x1="301.4" y1="279.5" x2="309" y2="290" stroke="#000" stroke-width="1.0"/>
<line x1="309" y1="290" x2="301.4" y2="300.5" stroke="#000" stroke-width="1.0"/>
<line x1="301.4" y1="300.5" x2="289" y2="296.5" stroke="#000" stroke-width="1.0"/>
<polygon points="253,303 254.6,292.5 251.4,292.5" fill="#000"/>
<polygon points="289,283.5 291.59,273.15 288.41,272.85" fill="#000"/>
<line x1="241.69" y1="318.95" x2="249.37" y2="314.79" stroke="#000" stroke-width="1.0"/>
<line x1="228.45" y1="315.05" x2="219.95" y2="319.95" stroke="#000" stroke-width="1.0"/>
<line x1="229.55" y1="316.95" x2="221.05" y2="321.85" stroke="#000" stroke-width="1.0"/>
<text x="213.4" y="324.3" font-size="6.3" text-anchor="start" font-weight="normal" fill="#111" textLength="5.8" lengthAdjust="spacingAndGlyphs" >O</text>
<polygon points="301.4,279.5 303.2,268.5 299.6,268.5" fill="#000"/>
<line x1="301.89" y1="267.63" x2="292.99" y2="262.63" stroke="#000" stroke-width="1.0"/>
<line x1="300.91" y1="269.37" x2="292.01" y2="264.37" stroke="#000" stroke-width="1.0"/>
<text x="287.4" y="267" font-size="6.3" text-anchor="start" font-weight="normal" fill="#111" textLength="5.6" lengthAdjust="spacingAndGlyphs" >O</text>
<line x1="301.4" y1="268.5" x2="313.5" y2="262.5" stroke="#000" stroke-width="1.0"/>
<line x1="303.65" y1="279.46" x2="303.53" y2="278.79" stroke="#000" stroke-width="0.9"/>
<line x1="305.89" y1="279.41" x2="305.66" y2="278.08" stroke="#000" stroke-width="0.9"/>
<line x1="308.14" y1="279.37" x2="307.79" y2="277.36" stroke="#000" stroke-width="0.9"/>
<line x1="310.39" y1="279.33" x2="309.92" y2="276.65" stroke="#000" stroke-width="0.9"/>
<line x1="312.63" y1="279.29" x2="312.05" y2="275.94" stroke="#000" stroke-width="0.9"/>
<text x="313.8" y="277.5" font-size="6.3" text-anchor="start" font-weight="normal" fill="#111" textLength="11.6" lengthAdjust="spacingAndGlyphs" >OH</text>
<line x1="241" y1="380.9" x2="229" y2="387.4" stroke="#000" stroke-width="1.0"/>
<line x1="229" y1="387.4" x2="229" y2="400.4" stroke="#000" stroke-width="1.0"/>
<line x1="229" y1="400.4" x2="241" y2="406.9" stroke="#000" stroke-width="1.0"/>
<line x1="241" y1="406.9" x2="253" y2="400.4" stroke="#000" stroke-width="1.0"/>
<line x1="253" y1="400.4" x2="253" y2="387.4" stroke="#000" stroke-width="1.0"/>
<line x1="253" y1="387.4" x2="241" y2="380.9" stroke="#000" stroke-width="1.0"/>
<line x1="253" y1="387.4" x2="265" y2="380.9" stroke="#000" stroke-width="1.0"/>
<line x1="265" y1="380.9" x2="277" y2="387.4" stroke="#000" stroke-width="1.0"/>
<line x1="277" y1="387.4" x2="277" y2="400.4" stroke="#000" stroke-width="1.0"/>
<line x1="277" y1="400.4" x2="265" y2="406.9" stroke="#000" stroke-width="1.0"/>
<line x1="265" y1="406.9" x2="253" y2="400.4" stroke="#000" stroke-width="1.0"/>
<line x1="265" y1="380.9" x2="265" y2="367.9" stroke="#000" stroke-width="1.0"/>
<line x1="265" y1="367.9" x2="277" y2="361.4" stroke="#000" stroke-width="1.0"/>
<line x1="277" y1="361.4" x2="289" y2="367.9" stroke="#000" stroke-width="1.0"/>
<line x1="289" y1="367.9" x2="289" y2="380.9" stroke="#000" stroke-width="1.0"/>
<line x1="289" y1="380.9" x2="277" y2="387.4" stroke="#000" stroke-width="1.0"/>
<line x1="289" y1="367.9" x2="301.4" y2="363.9" stroke="#000" stroke-width="1.0"/>
<line x1="301.4" y1="363.9" x2="309" y2="374.4" stroke="#000" stroke-width="1.0"/>
<line x1="309" y1="374.4" x2="301.4" y2="384.9" stroke="#000" stroke-width="1.0"/>
<line x1="301.4" y1="384.9" x2="289" y2="380.9" stroke="#000" stroke-width="1.0"/>
<polygon points="253,387.4 254.6,376.9 251.4,376.9" fill="#000"/>
<polygon points="289,367.9 291.59,357.55 288.41,357.25" fill="#000"/>
<line x1="241.69" y1="403.35" x2="249.37" y2="399.19" stroke="#000" stroke-width="1.0"/>
<line x1="228.45" y1="399.45" x2="219.95" y2="404.35" stroke="#000" stroke-width="1.0"/>
<line x1="229.55" y1="401.35" x2="221.05" y2="406.25" stroke="#000" stroke-width="1.0"/>
<text x="213.4" y="408.7" font-size="6.3" text-anchor="start" font-weight="normal" fill="#111" textLength="5.8" lengthAdjust="spacingAndGlyphs" >O</text>
<line x1="302.24" y1="364.44" x2="307.34" y2="356.44" stroke="#000" stroke-width="1.0"/>
<line x1="300.56" y1="363.36" x2="305.66" y2="355.36" stroke="#000" stroke-width="1.0"/>
<text x="306.2" y="355.2" font-size="6.3" text-anchor="start" font-weight="normal" fill="#111" textLength="5.6" lengthAdjust="spacingAndGlyphs" >O</text>
<line x1="241" y1="468.2" x2="229" y2="474.7" stroke="#000" stroke-width="1.0"/>
<line x1="229" y1="474.7" x2="229" y2="487.7" stroke="#000" stroke-width="1.0"/>
<line x1="229" y1="487.7" x2="241" y2="494.2" stroke="#000" stroke-width="1.0"/>
<line x1="241" y1="494.2" x2="253" y2="487.7" stroke="#000" stroke-width="1.0"/>
<line x1="253" y1="487.7" x2="253" y2="474.7" stroke="#000" stroke-width="1.0"/>
<line x1="253" y1="474.7" x2="241" y2="468.2" stroke="#000" stroke-width="1.0"/>
<line x1="253" y1="474.7" x2="265" y2="468.2" stroke="#000" stroke-width="1.0"/>
<line x1="265" y1="468.2" x2="277" y2="474.7" stroke="#000" stroke-width="1.0"/>
<line x1="277" y1="474.7" x2="277" y2="487.7" stroke="#000" stroke-width="1.0"/>
<line x1="277" y1="487.7" x2="265" y2="494.2" stroke="#000" stroke-width="1.0"/>
<line x1="265" y1="494.2" x2="253" y2="487.7" stroke="#000" stroke-width="1.0"/>
<line x1="265" y1="468.2" x2="265" y2="455.2" stroke="#000" stroke-width="1.0"/>
<line x1="265" y1="455.2" x2="277" y2="448.7" stroke="#000" stroke-width="1.0"/>
<line x1="277" y1="448.7" x2="289" y2="455.2" stroke="#000" stroke-width="1.0"/>
<line x1="289" y1="455.2" x2="289" y2="468.2" stroke="#000" stroke-width="1.0"/>
<line x1="289" y1="468.2" x2="277" y2="474.7" stroke="#000" stroke-width="1.0"/>
<line x1="289" y1="455.2" x2="301.4" y2="451.2" stroke="#000" stroke-width="1.0"/>
<line x1="301.4" y1="451.2" x2="309" y2="461.7" stroke="#000" stroke-width="1.0"/>
<line x1="309" y1="461.7" x2="301.4" y2="472.2" stroke="#000" stroke-width="1.0"/>
<line x1="301.4" y1="472.2" x2="289" y2="468.2" stroke="#000" stroke-width="1.0"/>
<polygon points="253,474.7 254.6,464.2 251.4,464.2" fill="#000"/>
<polygon points="289,455.2 291.59,444.85 288.41,444.55" fill="#000"/>
<line x1="241.69" y1="490.65" x2="249.37" y2="486.49" stroke="#000" stroke-width="1.0"/>
<line x1="228.45" y1="486.75" x2="219.95" y2="491.65" stroke="#000" stroke-width="1.0"/>
<line x1="229.55" y1="488.65" x2="221.05" y2="493.55" stroke="#000" stroke-width="1.0"/>
<text x="213.4" y="496" font-size="6.3" text-anchor="start" font-weight="normal" fill="#111" textLength="5.8" lengthAdjust="spacingAndGlyphs" >O</text>
<polygon points="301.4,451.2 307.87,443.52 305.13,441.88" fill="#000"/>
<text x="304.8" y="443.5" font-size="6.3" text-anchor="start" font-weight="normal" fill="#111" textLength="11.6" lengthAdjust="spacingAndGlyphs" >OH</text>
<line x1="239" y1="556.2" x2="227" y2="562.7" stroke="#000" stroke-width="1.0"/>
<line x1="227" y1="562.7" x2="227" y2="575.7" stroke="#000" stroke-width="1.0"/>
<line x1="227" y1="575.7" x2="239" y2="582.2" stroke="#000" stroke-width="1.0"/>
<line x1="239" y1="582.2" x2="251" y2="575.7" stroke="#000" stroke-width="1.0"/>
<line x1="251" y1="575.7" x2="251" y2="562.7" stroke="#000" stroke-width="1.0"/>
<line x1="251" y1="562.7" x2="239" y2="556.2" stroke="#000" stroke-width="1.0"/>
<line x1="251" y1="562.7" x2="263" y2="556.2" stroke="#000" stroke-width="1.0"/>
<line x1="263" y1="556.2" x2="275" y2="562.7" stroke="#000" stroke-width="1.0"/>
<line x1="275" y1="562.7" x2="275" y2="575.7" stroke="#000" stroke-width="1.0"/>
<line x1="275" y1="575.7" x2="263" y2="582.2" stroke="#000" stroke-width="1.0"/>
<line x1="263" y1="582.2" x2="251" y2="575.7" stroke="#000" stroke-width="1.0"/>
<line x1="263" y1="556.2" x2="263" y2="543.2" stroke="#000" stroke-width="1.0"/>
<line x1="263" y1="543.2" x2="275" y2="536.7" stroke="#000" stroke-width="1.0"/>
<line x1="275" y1="536.7" x2="287" y2="543.2" stroke="#000" stroke-width="1.0"/>
<line x1="287" y1="543.2" x2="287" y2="556.2" stroke="#000" stroke-width="1.0"/>
<line x1="287" y1="556.2" x2="275" y2="562.7" stroke="#000" stroke-width="1.0"/>
<line x1="287" y1="543.2" x2="299.4" y2="539.2" stroke="#000" stroke-width="1.0"/>
<line x1="299.4" y1="539.2" x2="307" y2="549.7" stroke="#000" stroke-width="1.0"/>
<line x1="307" y1="549.7" x2="299.4" y2="560.2" stroke="#000" stroke-width="1.0"/>
<line x1="299.4" y1="560.2" x2="287" y2="556.2" stroke="#000" stroke-width="1.0"/>
<polygon points="251,562.7 252.6,552.2 249.4,552.2" fill="#000"/>
<polygon points="287,543.2 289.59,532.85 286.41,532.55" fill="#000"/>
<line x1="226.45" y1="574.75" x2="217.95" y2="579.65" stroke="#000" stroke-width="1.0"/>
<line x1="227.55" y1="576.65" x2="219.05" y2="581.55" stroke="#000" stroke-width="1.0"/>
<text x="211.1" y="584" font-size="6.3" text-anchor="start" font-weight="bold" fill="#000" textLength="6.2" lengthAdjust="spacingAndGlyphs" >O</text>
<line x1="250.53" y1="577.68" x2="251.47" y2="577.68" stroke="#000" stroke-width="0.9"/>
<line x1="250.07" y1="579.65" x2="251.93" y2="579.65" stroke="#000" stroke-width="0.9"/>
<line x1="249.6" y1="581.63" x2="252.4" y2="581.63" stroke="#000" stroke-width="0.9"/>
<line x1="249.14" y1="583.61" x2="252.86" y2="583.61" stroke="#000" stroke-width="0.9"/>
<text x="248.3" y="592.2" font-size="6.3" text-anchor="start" font-weight="normal" fill="#111" textLength="5.4" lengthAdjust="spacingAndGlyphs" >H</text>
<polygon points="299.4,539.2 305.87,531.52 303.13,529.88" fill="#000"/>
<text x="302.8" y="531.5" font-size="6.3" text-anchor="start" font-weight="normal" fill="#111" textLength="11.6" lengthAdjust="spacingAndGlyphs" >OH</text>
<line x1="401" y1="183.5" x2="389" y2="190" stroke="#000" stroke-width="1.0"/>
<line x1="389" y1="190" x2="389" y2="203" stroke="#000" stroke-width="1.0"/>
<line x1="389" y1="203" x2="401" y2="209.5" stroke="#000" stroke-width="1.0"/>
<line x1="401" y1="209.5" x2="413" y2="203" stroke="#000" stroke-width="1.0"/>
<line x1="413" y1="203" x2="413" y2="190" stroke="#000" stroke-width="1.0"/>
<line x1="413" y1="190" x2="401" y2="183.5" stroke="#000" stroke-width="1.0"/>
<line x1="413" y1="190" x2="425" y2="183.5" stroke="#000" stroke-width="1.0"/>
<line x1="425" y1="183.5" x2="437" y2="190" stroke="#000" stroke-width="1.0"/>
<line x1="437" y1="190" x2="437" y2="203" stroke="#000" stroke-width="1.0"/>
<line x1="437" y1="203" x2="425" y2="209.5" stroke="#000" stroke-width="1.0"/>
<line x1="425" y1="209.5" x2="413" y2="203" stroke="#000" stroke-width="1.0"/>
<line x1="425" y1="183.5" x2="425" y2="170.5" stroke="#000" stroke-width="1.0"/>
<line x1="425" y1="170.5" x2="437" y2="164" stroke="#000" stroke-width="1.0"/>
<line x1="437" y1="164" x2="449" y2="170.5" stroke="#000" stroke-width="1.0"/>
<line x1="449" y1="170.5" x2="449" y2="183.5" stroke="#000" stroke-width="1.0"/>
<line x1="449" y1="183.5" x2="437" y2="190" stroke="#000" stroke-width="1.0"/>
<line x1="449" y1="170.5" x2="461.4" y2="166.5" stroke="#000" stroke-width="1.0"/>
<line x1="461.4" y1="166.5" x2="469" y2="177" stroke="#000" stroke-width="1.0"/>
<line x1="469" y1="177" x2="461.4" y2="187.5" stroke="#000" stroke-width="1.0"/>
<line x1="461.4" y1="187.5" x2="449" y2="183.5" stroke="#000" stroke-width="1.0"/>
<polygon points="413,190 414.6,179.5 411.4,179.5" fill="#000"/>
<polygon points="449,170.5 451.59,160.15 448.41,159.85" fill="#000"/>
<line x1="401.69" y1="205.95" x2="409.37" y2="201.79" stroke="#000" stroke-width="1.0"/>
<line x1="388.45" y1="202.05" x2="379.95" y2="206.95" stroke="#000" stroke-width="1.0"/>
<line x1="389.55" y1="203.95" x2="381.05" y2="208.85" stroke="#000" stroke-width="1.0"/>
<text x="372.8" y="212" font-size="6.3" text-anchor="start" font-weight="bold" fill="#000" textLength="6.2" lengthAdjust="spacingAndGlyphs" >O</text>
<polygon points="461.4,166.5 463.2,155.5 459.6,155.5" fill="#000"/>
<line x1="461.87" y1="154.62" x2="452.47" y2="149.62" stroke="#000" stroke-width="1.0"/>
<line x1="460.93" y1="156.38" x2="451.53" y2="151.38" stroke="#000" stroke-width="1.0"/>
<text x="446.5" y="151.8" font-size="6.3" text-anchor="start" font-weight="bold" fill="#000" textLength="6" lengthAdjust="spacingAndGlyphs" >O</text>
<line x1="461.4" y1="155.5" x2="474" y2="149.5" stroke="#000" stroke-width="1.0"/>
<line x1="474" y1="149.5" x2="474" y2="140" stroke="#000" stroke-width="1.0"/>
<text x="470.2" y="138.5" font-size="6.3" text-anchor="start" font-weight="normal" fill="#111" textLength="11.6" lengthAdjust="spacingAndGlyphs" >OH</text>
<line x1="400.4" y1="296.5" x2="388.4" y2="303" stroke="#000" stroke-width="1.0"/>
<line x1="388.4" y1="303" x2="388.4" y2="316" stroke="#000" stroke-width="1.0"/>
<line x1="388.4" y1="316" x2="400.4" y2="322.5" stroke="#000" stroke-width="1.0"/>
<line x1="400.4" y1="322.5" x2="412.4" y2="316" stroke="#000" stroke-width="1.0"/>
<line x1="412.4" y1="316" x2="412.4" y2="303" stroke="#000" stroke-width="1.0"/>
<line x1="412.4" y1="303" x2="400.4" y2="296.5" stroke="#000" stroke-width="1.0"/>
<line x1="412.4" y1="303" x2="424.4" y2="296.5" stroke="#000" stroke-width="1.0"/>
<line x1="424.4" y1="296.5" x2="436.4" y2="303" stroke="#000" stroke-width="1.0"/>
<line x1="436.4" y1="303" x2="436.4" y2="316" stroke="#000" stroke-width="1.0"/>
<line x1="436.4" y1="316" x2="424.4" y2="322.5" stroke="#000" stroke-width="1.0"/>
<line x1="424.4" y1="322.5" x2="412.4" y2="316" stroke="#000" stroke-width="1.0"/>
<line x1="424.4" y1="296.5" x2="424.4" y2="283.5" stroke="#000" stroke-width="1.0"/>
<line x1="424.4" y1="283.5" x2="436.4" y2="277" stroke="#000" stroke-width="1.0"/>
<line x1="436.4" y1="277" x2="448.4" y2="283.5" stroke="#000" stroke-width="1.0"/>
<line x1="448.4" y1="283.5" x2="448.4" y2="296.5" stroke="#000" stroke-width="1.0"/>
<line x1="448.4" y1="296.5" x2="436.4" y2="303" stroke="#000" stroke-width="1.0"/>
<line x1="448.4" y1="283.5" x2="460.8" y2="279.5" stroke="#000" stroke-width="1.0"/>
<line x1="460.8" y1="279.5" x2="468.4" y2="290" stroke="#000" stroke-width="1.0"/>
<line x1="468.4" y1="290" x2="460.8" y2="300.5" stroke="#000" stroke-width="1.0"/>
<line x1="460.8" y1="300.5" x2="448.4" y2="296.5" stroke="#000" stroke-width="1.0"/>
<polygon points="412.4,303 414,292.5 410.8,292.5" fill="#000"/>
<polygon points="448.4,283.5 450.99,273.15 447.81,272.85" fill="#000"/>
<line x1="401.09" y1="318.95" x2="408.77" y2="314.79" stroke="#000" stroke-width="1.0"/>
<line x1="387.85" y1="315.05" x2="379.35" y2="319.95" stroke="#000" stroke-width="1.0"/>
<line x1="388.95" y1="316.95" x2="380.45" y2="321.85" stroke="#000" stroke-width="1.0"/>
<text x="372.2" y="325" font-size="6.3" text-anchor="start" font-weight="bold" fill="#000" textLength="6.2" lengthAdjust="spacingAndGlyphs" >O</text>
<polygon points="460.8,279.5 462.6,268.5 459,268.5" fill="#000"/>
<line x1="461.27" y1="267.62" x2="451.87" y2="262.62" stroke="#000" stroke-width="1.0"/>
<line x1="460.33" y1="269.38" x2="450.93" y2="264.38" stroke="#000" stroke-width="1.0"/>
<text x="445.9" y="264.8" font-size="6.3" text-anchor="start" font-weight="bold" fill="#000" textLength="6" lengthAdjust="spacingAndGlyphs" >O</text>
<line x1="460.8" y1="268.5" x2="473.4" y2="262.5" stroke="#000" stroke-width="1.0"/>
<line x1="473.4" y1="262.5" x2="473.4" y2="253" stroke="#000" stroke-width="1.0"/>
<text x="469.6" y="251.5" font-size="6.3" text-anchor="start" font-weight="normal" fill="#111" textLength="11.6" lengthAdjust="spacingAndGlyphs" >OH</text>
<line x1="463.05" y1="279.46" x2="462.93" y2="278.79" stroke="#000" stroke-width="0.9"/>
<line x1="465.29" y1="279.41" x2="465.06" y2="278.08" stroke="#000" stroke-width="0.9"/>
<line x1="467.54" y1="279.37" x2="467.19" y2="277.36" stroke="#000" stroke-width="0.9"/>
<line x1="469.79" y1="279.33" x2="469.32" y2="276.65" stroke="#000" stroke-width="0.9"/>
<line x1="472.03" y1="279.29" x2="471.45" y2="275.94" stroke="#000" stroke-width="0.9"/>
<text x="473.2" y="277.5" font-size="6.3" text-anchor="start" font-weight="normal" fill="#111" textLength="11.6" lengthAdjust="spacingAndGlyphs" >OH</text>
<line x1="550" y1="183.5" x2="538" y2="190" stroke="#000" stroke-width="1.0"/>
<line x1="538" y1="190" x2="538" y2="203" stroke="#000" stroke-width="1.0"/>
<line x1="538" y1="203" x2="550" y2="209.5" stroke="#000" stroke-width="1.0"/>
<line x1="550" y1="209.5" x2="562" y2="203" stroke="#000" stroke-width="1.0"/>
<line x1="562" y1="203" x2="562" y2="190" stroke="#000" stroke-width="1.0"/>
<line x1="562" y1="190" x2="550" y2="183.5" stroke="#000" stroke-width="1.0"/>
<line x1="562" y1="190" x2="574" y2="183.5" stroke="#000" stroke-width="1.0"/>
<line x1="574" y1="183.5" x2="586" y2="190" stroke="#000" stroke-width="1.0"/>
<line x1="586" y1="190" x2="586" y2="203" stroke="#000" stroke-width="1.0"/>
<line x1="586" y1="203" x2="574" y2="209.5" stroke="#000" stroke-width="1.0"/>
<line x1="574" y1="209.5" x2="562" y2="203" stroke="#000" stroke-width="1.0"/>
<line x1="574" y1="183.5" x2="574" y2="170.5" stroke="#000" stroke-width="1.0"/>
<line x1="574" y1="170.5" x2="586" y2="164" stroke="#000" stroke-width="1.0"/>
<line x1="586" y1="164" x2="598" y2="170.5" stroke="#000" stroke-width="1.0"/>
<line x1="598" y1="170.5" x2="598" y2="183.5" stroke="#000" stroke-width="1.0"/>
<line x1="598" y1="183.5" x2="586" y2="190" stroke="#000" stroke-width="1.0"/>
<line x1="598" y1="170.5" x2="610.4" y2="166.5" stroke="#000" stroke-width="1.0"/>
<line x1="610.4" y1="166.5" x2="618" y2="177" stroke="#000" stroke-width="1.0"/>
<line x1="618" y1="177" x2="610.4" y2="187.5" stroke="#000" stroke-width="1.0"/>
<line x1="610.4" y1="187.5" x2="598" y2="183.5" stroke="#000" stroke-width="1.0"/>
<polygon points="562,190 563.6,179.5 560.4,179.5" fill="#000"/>
<polygon points="598,170.5 600.59,160.15 597.41,159.85" fill="#000"/>
<line x1="550.69" y1="205.95" x2="558.37" y2="201.79" stroke="#000" stroke-width="1.0"/>
<line x1="537.45" y1="202.05" x2="528.95" y2="206.95" stroke="#000" stroke-width="1.0"/>
<line x1="538.55" y1="203.95" x2="530.05" y2="208.85" stroke="#000" stroke-width="1.0"/>
<text x="521.8" y="212" font-size="6.3" text-anchor="start" font-weight="bold" fill="#000" textLength="6.2" lengthAdjust="spacingAndGlyphs" >O</text>
<polygon points="574,170.5 566.04,163.29 563.96,166.71" fill="#000"/>
<text x="553.7" y="166.4" font-size="6.3" text-anchor="start" font-weight="normal" fill="#111" textLength="11.6" lengthAdjust="spacingAndGlyphs" >HO</text>
<polygon points="610.4,166.5 612.2,155.5 608.6,155.5" fill="#000"/>
<line x1="610.87" y1="154.62" x2="601.47" y2="149.62" stroke="#000" stroke-width="1.0"/>
<line x1="609.93" y1="156.38" x2="600.53" y2="151.38" stroke="#000" stroke-width="1.0"/>
<text x="595.5" y="151.8" font-size="6.3" text-anchor="start" font-weight="bold" fill="#000" textLength="6" lengthAdjust="spacingAndGlyphs" >O</text>
<line x1="610.4" y1="155.5" x2="623" y2="149.5" stroke="#000" stroke-width="1.0"/>
<line x1="623" y1="149.5" x2="623" y2="140" stroke="#000" stroke-width="1.0"/>
<text x="619.2" y="138.5" font-size="6.3" text-anchor="start" font-weight="bold" fill="#000" textLength="12.76" lengthAdjust="spacingAndGlyphs" >OH</text>
<line x1="550" y1="295.5" x2="538" y2="302" stroke="#000" stroke-width="1.0"/>
<line x1="538" y1="302" x2="538" y2="315" stroke="#000" stroke-width="1.0"/>
<line x1="538" y1="315" x2="550" y2="321.5" stroke="#000" stroke-width="1.0"/>
<line x1="550" y1="321.5" x2="562" y2="315" stroke="#000" stroke-width="1.0"/>
<line x1="562" y1="315" x2="562" y2="302" stroke="#000" stroke-width="1.0"/>
<line x1="562" y1="302" x2="550" y2="295.5" stroke="#000" stroke-width="1.0"/>
<line x1="562" y1="302" x2="574" y2="295.5" stroke="#000" stroke-width="1.0"/>
<line x1="574" y1="295.5" x2="586" y2="302" stroke="#000" stroke-width="1.0"/>
<line x1="586" y1="302" x2="586" y2="315" stroke="#000" stroke-width="1.0"/>
<line x1="586" y1="315" x2="574" y2="321.5" stroke="#000" stroke-width="1.0"/>
<line x1="574" y1="321.5" x2="562" y2="315" stroke="#000" stroke-width="1.0"/>
<line x1="574" y1="295.5" x2="574" y2="282.5" stroke="#000" stroke-width="1.0"/>
<line x1="574" y1="282.5" x2="586" y2="276" stroke="#000" stroke-width="1.0"/>
<line x1="586" y1="276" x2="598" y2="282.5" stroke="#000" stroke-width="1.0"/>
<line x1="598" y1="282.5" x2="598" y2="295.5" stroke="#000" stroke-width="1.0"/>
<line x1="598" y1="295.5" x2="586" y2="302" stroke="#000" stroke-width="1.0"/>
<line x1="598" y1="282.5" x2="610.4" y2="278.5" stroke="#000" stroke-width="1.0"/>
<line x1="610.4" y1="278.5" x2="618" y2="289" stroke="#000" stroke-width="1.0"/>
<line x1="618" y1="289" x2="610.4" y2="299.5" stroke="#000" stroke-width="1.0"/>
<line x1="610.4" y1="299.5" x2="598" y2="295.5" stroke="#000" stroke-width="1.0"/>
<polygon points="562,302 563.6,291.5 560.4,291.5" fill="#000"/>
<polygon points="598,282.5 600.59,272.15 597.41,271.85" fill="#000"/>
<line x1="550.69" y1="317.95" x2="558.37" y2="313.79" stroke="#000" stroke-width="1.0"/>
<line x1="537.45" y1="314.05" x2="528.95" y2="318.95" stroke="#000" stroke-width="1.0"/>
<line x1="538.55" y1="315.95" x2="530.05" y2="320.85" stroke="#000" stroke-width="1.0"/>
<text x="521.8" y="324" font-size="6.3" text-anchor="start" font-weight="bold" fill="#000" textLength="6.2" lengthAdjust="spacingAndGlyphs" >O</text>
<polygon points="574,282.5 566.04,275.29 563.96,278.71" fill="#000"/>
<text x="553.7" y="278.4" font-size="6.3" text-anchor="start" font-weight="normal" fill="#111" textLength="11.6" lengthAdjust="spacingAndGlyphs" >HO</text>
<polygon points="610.4,278.5 612.2,267.5 608.6,267.5" fill="#000"/>
<line x1="610.87" y1="266.62" x2="601.47" y2="261.62" stroke="#000" stroke-width="1.0"/>
<line x1="609.93" y1="268.38" x2="600.53" y2="263.38" stroke="#000" stroke-width="1.0"/>
<text x="595.5" y="263.8" font-size="6.3" text-anchor="start" font-weight="bold" fill="#000" textLength="6" lengthAdjust="spacingAndGlyphs" >O</text>
<line x1="610.4" y1="267.5" x2="623" y2="261.5" stroke="#000" stroke-width="1.0"/>
<line x1="623" y1="261.5" x2="623" y2="252" stroke="#000" stroke-width="1.0"/>
<text x="619.2" y="250.5" font-size="6.3" text-anchor="start" font-weight="normal" fill="#111" textLength="11.6" lengthAdjust="spacingAndGlyphs" >OH</text>
<line x1="612.65" y1="278.46" x2="612.53" y2="277.79" stroke="#000" stroke-width="0.9"/>
<line x1="614.89" y1="278.41" x2="614.66" y2="277.08" stroke="#000" stroke-width="0.9"/>
<line x1="617.14" y1="278.37" x2="616.79" y2="276.36" stroke="#000" stroke-width="0.9"/>
<line x1="619.39" y1="278.33" x2="618.92" y2="275.65" stroke="#000" stroke-width="0.9"/>
<line x1="621.63" y1="278.29" x2="621.05" y2="274.94" stroke="#000" stroke-width="0.9"/>
<text x="622.8" y="276.5" font-size="6.3" text-anchor="start" font-weight="normal" fill="#111" textLength="11.6" lengthAdjust="spacingAndGlyphs" >OH</text>
<line x1="406" y1="380.9" x2="394" y2="387.4" stroke="#000" stroke-width="1.0"/>
<line x1="394" y1="387.4" x2="394" y2="400.4" stroke="#000" stroke-width="1.0"/>
<line x1="394" y1="400.4" x2="406" y2="406.9" stroke="#000" stroke-width="1.0"/>
<line x1="406" y1="406.9" x2="418" y2="400.4" stroke="#000" stroke-width="1.0"/>
<line x1="418" y1="400.4" x2="418" y2="387.4" stroke="#000" stroke-width="1.0"/>
<line x1="418" y1="387.4" x2="406" y2="380.9" stroke="#000" stroke-width="1.0"/>
<line x1="418" y1="387.4" x2="430" y2="380.9" stroke="#000" stroke-width="1.0"/>
<line x1="430" y1="380.9" x2="442" y2="387.4" stroke="#000" stroke-width="1.0"/>
<line x1="442" y1="387.4" x2="442" y2="400.4" stroke="#000" stroke-width="1.0"/>
<line x1="442" y1="400.4" x2="430" y2="406.9" stroke="#000" stroke-width="1.0"/>
<line x1="430" y1="406.9" x2="418" y2="400.4" stroke="#000" stroke-width="1.0"/>
<line x1="430" y1="380.9" x2="430" y2="367.9" stroke="#000" stroke-width="1.0"/>
<line x1="430" y1="367.9" x2="442" y2="361.4" stroke="#000" stroke-width="1.0"/>
<line x1="442" y1="361.4" x2="454" y2="367.9" stroke="#000" stroke-width="1.0"/>
<line x1="454" y1="367.9" x2="454" y2="380.9" stroke="#000" stroke-width="1.0"/>
<line x1="454" y1="380.9" x2="442" y2="387.4" stroke="#000" stroke-width="1.0"/>
<line x1="454" y1="367.9" x2="466.4" y2="363.9" stroke="#000" stroke-width="1.0"/>
<line x1="466.4" y1="363.9" x2="474" y2="374.4" stroke="#000" stroke-width="1.0"/>
<line x1="474" y1="374.4" x2="466.4" y2="384.9" stroke="#000" stroke-width="1.0"/>
<line x1="466.4" y1="384.9" x2="454" y2="380.9" stroke="#000" stroke-width="1.0"/>
<polygon points="454,367.9 456.59,357.55 453.41,357.25" fill="#000"/>
<line x1="397.63" y1="388.61" x2="405.31" y2="384.45" stroke="#000" stroke-width="1.0"/>
<line x1="415.2" y1="389.74" x2="415.2" y2="398.06" stroke="#000" stroke-width="1.0"/>
<line x1="405.31" y1="403.35" x2="397.63" y2="399.19" stroke="#000" stroke-width="1.0"/>
<line x1="394" y1="400.4" x2="387" y2="404.4" stroke="#000" stroke-width="1.0"/>
<text x="373.8" y="408.4" font-size="6.3" text-anchor="start" font-weight="normal" fill="#111" textLength="11.6" lengthAdjust="spacingAndGlyphs" >HO</text>
<line x1="467.24" y1="364.44" x2="472.34" y2="356.44" stroke="#000" stroke-width="1.0"/>
<line x1="465.56" y1="363.36" x2="470.66" y2="355.36" stroke="#000" stroke-width="1.0"/>
<text x="471.2" y="355.2" font-size="6.3" text-anchor="start" font-weight="normal" fill="#111" textLength="5.6" lengthAdjust="spacingAndGlyphs" >O</text>
<line x1="406" y1="469.8" x2="394" y2="476.3" stroke="#000" stroke-width="1.0"/>
<line x1="394" y1="476.3" x2="394" y2="489.3" stroke="#000" stroke-width="1.0"/>
<line x1="394" y1="489.3" x2="406" y2="495.8" stroke="#000" stroke-width="1.0"/>
<line x1="406" y1="495.8" x2="418" y2="489.3" stroke="#000" stroke-width="1.0"/>
<line x1="418" y1="489.3" x2="418" y2="476.3" stroke="#000" stroke-width="1.0"/>
<line x1="418" y1="476.3" x2="406" y2="469.8" stroke="#000" stroke-width="1.0"/>
<line x1="418" y1="476.3" x2="430" y2="469.8" stroke="#000" stroke-width="1.0"/>
<line x1="430" y1="469.8" x2="442" y2="476.3" stroke="#000" stroke-width="1.0"/>
<line x1="442" y1="476.3" x2="442" y2="489.3" stroke="#000" stroke-width="1.0"/>
<line x1="442" y1="489.3" x2="430" y2="495.8" stroke="#000" stroke-width="1.0"/>
<line x1="430" y1="495.8" x2="418" y2="489.3" stroke="#000" stroke-width="1.0"/>
<line x1="430" y1="469.8" x2="430" y2="456.8" stroke="#000" stroke-width="1.0"/>
<line x1="430" y1="456.8" x2="442" y2="450.3" stroke="#000" stroke-width="1.0"/>
<line x1="442" y1="450.3" x2="454" y2="456.8" stroke="#000" stroke-width="1.0"/>
<line x1="454" y1="456.8" x2="454" y2="469.8" stroke="#000" stroke-width="1.0"/>
<line x1="454" y1="469.8" x2="442" y2="476.3" stroke="#000" stroke-width="1.0"/>
<line x1="454" y1="456.8" x2="466.4" y2="452.8" stroke="#000" stroke-width="1.0"/>
<line x1="466.4" y1="452.8" x2="474" y2="463.3" stroke="#000" stroke-width="1.0"/>
<line x1="474" y1="463.3" x2="466.4" y2="473.8" stroke="#000" stroke-width="1.0"/>
<line x1="466.4" y1="473.8" x2="454" y2="469.8" stroke="#000" stroke-width="1.0"/>
<polygon points="454,456.8 456.59,446.45 453.41,446.15" fill="#000"/>
<line x1="397.63" y1="477.51" x2="405.31" y2="473.35" stroke="#000" stroke-width="1.0"/>
<line x1="415.2" y1="478.64" x2="415.2" y2="486.96" stroke="#000" stroke-width="1.0"/>
<line x1="405.31" y1="492.25" x2="397.63" y2="488.09" stroke="#000" stroke-width="1.0"/>
<line x1="394" y1="489.3" x2="387" y2="493.3" stroke="#000" stroke-width="1.0"/>
<text x="373.8" y="497.3" font-size="6.3" text-anchor="start" font-weight="normal" fill="#111" textLength="11.6" lengthAdjust="spacingAndGlyphs" >HO</text>
<polygon points="466.4,452.8 472.87,445.12 470.13,443.48" fill="#000"/>
<text x="469.8" y="445.1" font-size="6.3" text-anchor="start" font-weight="normal" fill="#111" textLength="11.6" lengthAdjust="spacingAndGlyphs" >OH</text>
<line x1="512" y1="67.5" x2="500" y2="74" stroke="#000" stroke-width="1.0"/>
<line x1="500" y1="74" x2="500" y2="87" stroke="#000" stroke-width="1.0"/>
<line x1="500" y1="87" x2="512" y2="93.5" stroke="#000" stroke-width="1.0"/>
<line x1="512" y1="93.5" x2="524" y2="87" stroke="#000" stroke-width="1.0"/>
<line x1="524" y1="87" x2="524" y2="74" stroke="#000" stroke-width="1.0"/>
<line x1="524" y1="74" x2="512" y2="67.5" stroke="#000" stroke-width="1.0"/>
<line x1="524" y1="74" x2="536" y2="67.5" stroke="#000" stroke-width="1.0"/>
<line x1="536" y1="67.5" x2="548" y2="74" stroke="#000" stroke-width="1.0"/>
<line x1="548" y1="74" x2="548" y2="87" stroke="#000" stroke-width="1.0"/>
<line x1="548" y1="87" x2="536" y2="93.5" stroke="#000" stroke-width="1.0"/>
<line x1="536" y1="93.5" x2="524" y2="87" stroke="#000" stroke-width="1.0"/>
<line x1="536" y1="67.5" x2="536" y2="54.5" stroke="#000" stroke-width="1.0"/>
<line x1="536" y1="54.5" x2="548" y2="48" stroke="#000" stroke-width="1.0"/>
<line x1="548" y1="48" x2="560" y2="54.5" stroke="#000" stroke-width="1.0"/>
<line x1="560" y1="54.5" x2="560" y2="67.5" stroke="#000" stroke-width="1.0"/>
<line x1="560" y1="67.5" x2="548" y2="74" stroke="#000" stroke-width="1.0"/>
<line x1="560" y1="54.5" x2="572.4" y2="50.5" stroke="#000" stroke-width="1.0"/>
<line x1="572.4" y1="50.5" x2="580" y2="61" stroke="#000" stroke-width="1.0"/>
<line x1="580" y1="61" x2="572.4" y2="71.5" stroke="#000" stroke-width="1.0"/>
<line x1="572.4" y1="71.5" x2="560" y2="67.5" stroke="#000" stroke-width="1.0"/>
<polygon points="524,74 525.6,63.5 522.4,63.5" fill="#000"/>
<line x1="512.69" y1="89.95" x2="520.37" y2="85.79" stroke="#000" stroke-width="1.0"/>
<line x1="499.45" y1="86.05" x2="491.95" y2="90.35" stroke="#000" stroke-width="1.0"/>
<line x1="500.55" y1="87.95" x2="493.05" y2="92.25" stroke="#000" stroke-width="1.0"/>
<text x="489.5" y="94.8" font-size="10.5" text-anchor="middle" font-weight="normal" fill="#000" stroke="#000" stroke-width="0.3">O</text>
<polygon points="536,54.5 527.26,46.88 525.34,49.92" fill="#000"/>
<text x="513" y="50.2" font-size="9" text-anchor="start" font-weight="normal" fill="#000" textLength="13.3" lengthAdjust="spacing" stroke="#000" stroke-width="0.3">HO</text>
<polygon points="560,54.5 561.5,44 558.5,44" fill="#000"/>
<line x1="560.78" y1="44.62" x2="566.78" y2="37.12" stroke="#000" stroke-width="1.0"/>
<line x1="559.22" y1="43.38" x2="565.22" y2="35.88" stroke="#000" stroke-width="1.0"/>
<text x="568" y="36.5" font-size="11" text-anchor="middle" font-weight="normal" fill="#000" stroke="#000" stroke-width="0.3">O</text>
<polygon points="572.4,50.5 583.72,47.88 582.48,44.72" fill="#000"/>
<line x1="584.2" y1="46.3" x2="584.2" y2="35.5" stroke="#000" stroke-width="1.0"/>
<line x1="582" y1="46.3" x2="582" y2="35.5" stroke="#000" stroke-width="1.0"/>
<text x="583.1" y="34.5" font-size="10.5" text-anchor="middle" font-weight="normal" fill="#000" stroke="#000" stroke-width="0.3">O</text>
<line x1="583.1" y1="46.3" x2="595.5" y2="51.6" stroke="#000" stroke-width="1.0"/>
<line x1="595.5" y1="51.6" x2="603" y2="47" stroke="#000" stroke-width="1.0"/>
<text x="603.5" y="47.9" font-size="10.5" text-anchor="start" font-weight="normal" fill="#000" textLength="15.1" lengthAdjust="spacing" stroke="#000" stroke-width="0.3">OH</text>
<line x1="544" y1="421.5" x2="532" y2="428" stroke="#000" stroke-width="1.0"/>
<line x1="532" y1="428" x2="532" y2="441" stroke="#000" stroke-width="1.0"/>
<line x1="532" y1="441" x2="544" y2="447.5" stroke="#000" stroke-width="1.0"/>
<line x1="544" y1="447.5" x2="556" y2="441" stroke="#000" stroke-width="1.0"/>
<line x1="556" y1="441" x2="556" y2="428" stroke="#000" stroke-width="1.0"/>
<line x1="556" y1="428" x2="544" y2="421.5" stroke="#000" stroke-width="1.0"/>
<line x1="556" y1="428" x2="568" y2="421.5" stroke="#000" stroke-width="1.0"/>
<line x1="568" y1="421.5" x2="580" y2="428" stroke="#000" stroke-width="1.0"/>
<line x1="580" y1="428" x2="580" y2="441" stroke="#000" stroke-width="1.0"/>
<line x1="580" y1="441" x2="568" y2="447.5" stroke="#000" stroke-width="1.0"/>
<line x1="568" y1="447.5" x2="556" y2="441" stroke="#000" stroke-width="1.0"/>
<line x1="568" y1="421.5" x2="568" y2="408.5" stroke="#000" stroke-width="1.0"/>
<line x1="568" y1="408.5" x2="580" y2="402" stroke="#000" stroke-width="1.0"/>
<line x1="580" y1="402" x2="592" y2="408.5" stroke="#000" stroke-width="1.0"/>
<line x1="592" y1="408.5" x2="592" y2="421.5" stroke="#000" stroke-width="1.0"/>
<line x1="592" y1="421.5" x2="580" y2="428" stroke="#000" stroke-width="1.0"/>
<line x1="592" y1="408.5" x2="604.4" y2="404.5" stroke="#000" stroke-width="1.0"/>
<line x1="604.4" y1="404.5" x2="612" y2="415" stroke="#000" stroke-width="1.0"/>
<line x1="612" y1="415" x2="604.4" y2="425.5" stroke="#000" stroke-width="1.0"/>
<line x1="604.4" y1="425.5" x2="592" y2="421.5" stroke="#000" stroke-width="1.0"/>
<polygon points="592,408.5 594.59,398.15 591.41,397.85" fill="#000"/>
<line x1="535.63" y1="429.21" x2="543.31" y2="425.05" stroke="#000" stroke-width="1.0"/>
<line x1="553.2" y1="430.34" x2="553.2" y2="438.66" stroke="#000" stroke-width="1.0"/>
<line x1="543.31" y1="443.95" x2="535.63" y2="439.79" stroke="#000" stroke-width="1.0"/>
<line x1="532" y1="441" x2="525" y2="445" stroke="#000" stroke-width="1.0"/>
<text x="516" y="449.8" font-size="6.3" text-anchor="start" font-weight="bold" fill="#000" textLength="12" lengthAdjust="spacingAndGlyphs" >HO</text>
<polygon points="604.4,404.5 612.59,395.94 610.01,394.06" fill="#000"/>
<text x="609.7" y="396" font-size="6.3" text-anchor="start" font-weight="normal" fill="#111" textLength="10.6" lengthAdjust="spacingAndGlyphs" >OH</text>
<line x1="614" y1="415.34" x2="614" y2="414.66" stroke="#000" stroke-width="0.9"/>
<line x1="616" y1="415.68" x2="616" y2="414.32" stroke="#000" stroke-width="0.9"/>
<line x1="618" y1="416.02" x2="618" y2="413.98" stroke="#000" stroke-width="0.9"/>
<line x1="620" y1="416.36" x2="620" y2="413.64" stroke="#000" stroke-width="0.9"/>
<line x1="622" y1="416.7" x2="622" y2="413.3" stroke="#000" stroke-width="0.9"/>
<text x="624" y="417.5" font-size="6.3" text-anchor="start" font-weight="normal" fill="#111" textLength="11.6" lengthAdjust="spacingAndGlyphs" >OH</text>
<ellipse cx="395" cy="397" rx="25" ry="19.5" fill="#fff" fill-opacity="0.3"/>
<ellipse cx="395" cy="487" rx="25" ry="20" fill="#fff" fill-opacity="0.3"/>
<text x="97.3" y="216" font-size="10.8" text-anchor="start" font-weight="normal" fill="#000" textLength="68.6" lengthAdjust="spacing" stroke="#000" stroke-width="0.3">Pregnenolone</text>
<text x="218.7" y="157.4" font-size="10.8" text-anchor="start" font-weight="normal" fill="#000" textLength="65.9" lengthAdjust="spacing" stroke="#000" stroke-width="0.3">Progesterone</text>
<text x="27.3" y="270.4" font-size="10.2" text-anchor="start" font-weight="normal" fill="#000" textLength="56.6" lengthAdjust="spacing" stroke="#000" stroke-width="0.3">17α-hydroxy</text>
<text x="27.3" y="280" font-size="10.2" text-anchor="start" font-weight="normal" fill="#000" textLength="59.3" lengthAdjust="spacing" stroke="#000" stroke-width="0.3">pregnenolone</text>
<text x="202.3" y="269.7" font-size="10.2" text-anchor="start" font-weight="normal" fill="#000" textLength="57" lengthAdjust="spacing" stroke="#000" stroke-width="0.3">17α-hydroxy</text>
<text x="202.3" y="278.7" font-size="10.2" text-anchor="start" font-weight="normal" fill="#000" textLength="59.3" lengthAdjust="spacing" stroke="#000" stroke-width="0.3">progesterone</text>
<text x="374.7" y="150.4" font-size="10.5" text-anchor="start" font-weight="normal" fill="#000" textLength="33.3" lengthAdjust="spacing" stroke="#000" stroke-width="0.3">Deoxy-</text>
<text x="374.7" y="160" font-size="10.5" text-anchor="start" font-weight="normal" fill="#000" textLength="67.9" lengthAdjust="spacing" stroke="#000" stroke-width="0.3">corticosterone</text>
<text x="359.7" y="276" font-size="10.3" text-anchor="start" font-weight="normal" fill="#000" textLength="73.2" lengthAdjust="spacing" stroke="#000" stroke-width="0.3">11-deoxycortisol</text>
<text x="591.3" y="203" font-size="10.8" text-anchor="start" font-weight="normal" fill="#000" textLength="71.7" lengthAdjust="spacing" stroke="#000" stroke-width="0.3">Corticosterone</text>
<text x="593.5" y="315.1" font-size="10.5" text-anchor="start" font-weight="normal" fill="#000" textLength="35.5" lengthAdjust="spacing" stroke="#000" stroke-width="0.3">Cortisol</text>
<text x="553.3" y="86.3" font-size="10.8" text-anchor="start" font-weight="normal" fill="#000" textLength="58.3" lengthAdjust="spacing" stroke="#000" stroke-width="0.3">Aldosterone</text>
<text x="101.7" y="398.3" font-size="10" text-anchor="start" font-weight="normal" fill="#000" textLength="53.2" lengthAdjust="spacing" stroke="#000" stroke-width="0.3">Dehydroepi-</text>
<text x="101.7" y="407.7" font-size="10" text-anchor="start" font-weight="normal" fill="#000" textLength="57.9" lengthAdjust="spacing" stroke="#000" stroke-width="0.3">androsterone</text>
<text x="279.8" y="398.1" font-size="10" text-anchor="start" font-weight="normal" fill="#000" textLength="43.9" lengthAdjust="spacing" stroke="#000" stroke-width="0.3">Androste-</text>
<text x="280" y="407.9" font-size="10" text-anchor="start" font-weight="normal" fill="#000" textLength="33.5" lengthAdjust="spacing" stroke="#000" stroke-width="0.3">nedione</text>
<text x="115.3" y="487.7" font-size="10" text-anchor="start" font-weight="normal" fill="#000" textLength="65.9" lengthAdjust="spacing" stroke="#000" stroke-width="0.3">Androstenediol</text>
<text x="280.6" y="487.1" font-size="10.3" text-anchor="start" font-weight="normal" fill="#000" stroke="#000" stroke-width="0.3">Testosterone</text>
<text x="278.9" y="576.5" font-size="10.3" text-anchor="start" font-weight="normal" fill="#000" stroke="#000" stroke-width="0.3">Dihydrotestosterone</text>
<text x="446.7" y="396.7" font-size="10.2" text-anchor="start" font-weight="normal" fill="#000" textLength="35" lengthAdjust="spacing" stroke="#000" stroke-width="0.3">Estrone</text>
<text x="444.9" y="488.2" font-size="10" text-anchor="start" font-weight="normal" fill="#000" textLength="38.1" lengthAdjust="spacing" stroke="#000" stroke-width="0.3">Estradiol</text>
<text x="583.8" y="436.9" font-size="10.4" text-anchor="start" font-weight="normal" fill="#000" textLength="29" lengthAdjust="spacing" stroke="#000" stroke-width="0.3">Estriol</text>
<text transform="translate(10,165.6) rotate(90)" x="0" y="0" font-size="11.6" font-weight="bold" fill="#000" textLength="145.9" lengthAdjust="spacing" >Progestagens (21 carbons)</text>
<text transform="translate(9.5,357.5) rotate(90)" x="0" y="0" font-size="11.6" font-weight="bold" fill="#0c0c88" textLength="133.8" lengthAdjust="spacing" stroke="#0c0c88" stroke-width="0.2">Androgens (19 carbons)</text>
<text x="369.9" y="29.6" font-size="11" text-anchor="start" font-weight="bold" fill="#64149a" textLength="100.9" lengthAdjust="spacing" >Mineralocorticoids</text>
<text x="367.9" y="45.9" font-size="11" text-anchor="start" font-weight="bold" fill="#64149a" textLength="67.9" lengthAdjust="spacing" >(21 carbons)</text>
<text x="557.1" y="349.6" font-size="11.5" text-anchor="start" font-weight="bold" fill="#146432" textLength="89.5" lengthAdjust="spacing" >Glucocorticoids</text>
<text x="555" y="366.2" font-size="11.5" text-anchor="start" font-weight="bold" fill="#146432" textLength="68" lengthAdjust="spacing" >(21 carbons)</text>
<text transform="translate(374.5,556) rotate(-24.5)" font-size="12" font-weight="bold" fill="#5c0f8f" stroke="#5c0f8f" stroke-width="0.25" textLength="130" lengthAdjust="spacing">Estrogens (18 carbons)</text>
</g></svg>
</body></html>
